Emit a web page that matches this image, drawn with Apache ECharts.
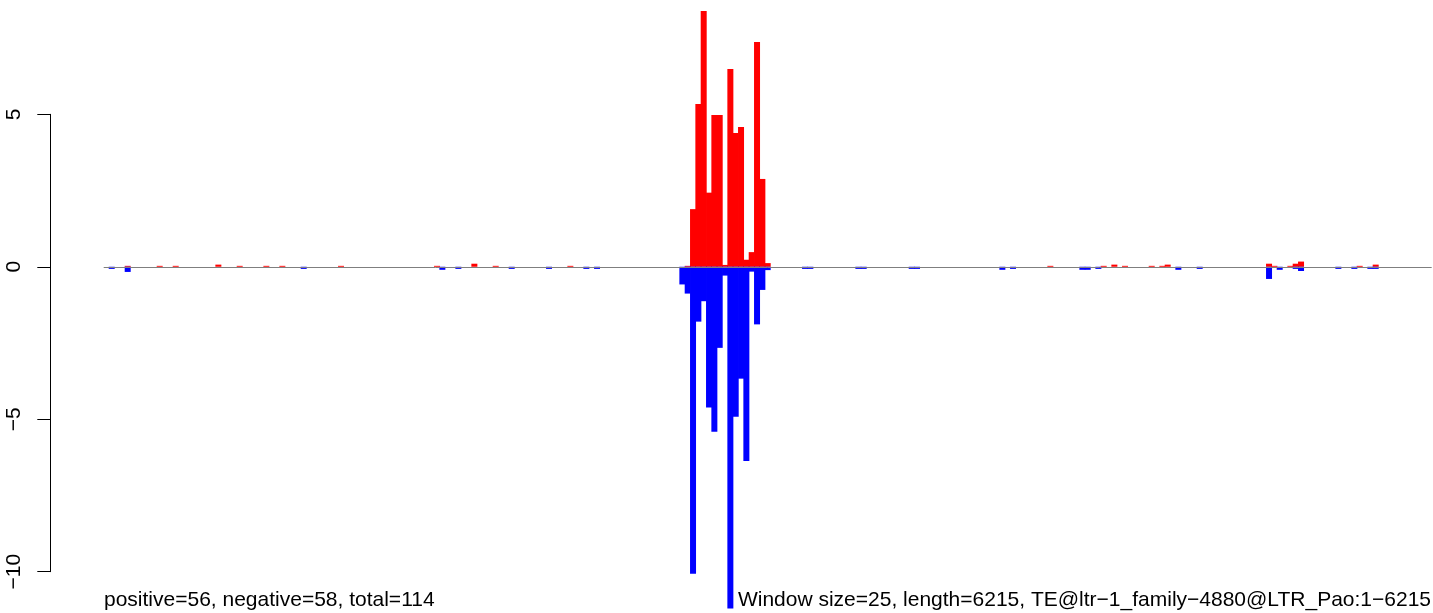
<!DOCTYPE html>
<html>
<head>
<meta charset="utf-8">
<script src="https://cdn.jsdelivr.net/npm/echarts@6/dist/echarts.min.js"></script>
<style>
html,body{margin:0;padding:0;background:#fff;}
#chart{width:1433px;height:613px;}
</style>
</head>
<body>
<div id="chart"></div>
<script>
// Window size 25 over length 6215 -> 249 windows
const windowSize = 25;
const seqLength = 6215;

// Positive (red) signal per window, 249 values
const positive = [
  0,0,0,0,0.03,0,0,0,0,0, 0.03,0,0,0.03,0,0,0,0,0,0,
  0,0.07,0,0,0,0.03,0,0,0,0, 0.03,0,0,0.03,0,0,0,0,0,0,
  0,0,0,0,0.03,0,0,0,0,0, 0,0,0,0,0,0,0,0,0,0,
  0,0,0.03,0,0,0,0,0,0,0.1, 0,0,0,0.03,0,0,0,0,0,0,
  0,0,0,0,0,0,0,0.03,0,0, 0,0,0,0,0,0,0,0,0,0,
  0,0,0,0,0,0,0,0,0,0.03, 1.89,5.34,8.39,2.43,4.98,4.98,0.06,6.49,4.39,4.58,
  0.23,0.48,7.37,2.88,0.12,0,0,0,0,0, 0,0,0,0,0,0,0,0,0,0,
  0,0,0,0,0,0,0,0,0,0, 0,0,0,0,0,0,0,0,0,0,
  0,0,0,0,0,0,0,0,0,0, 0,0,0,0,0,0,0,0.03,0,0,
  0,0,0,0,0,0,0,0.03,0,0.07, 0,0.03,0,0,0,0,0.03,0,0.03,0.07,
  0,0,0,0,0,0,0,0,0,0, 0,0,0,0,0,0,0,0,0.1,0.03,
  0,0,0.03,0.1,0.17,0,0,0,0,0, 0,0,0,0,0,0.03,0,0,0.07,0,
  0,0,0,0,0,0,0,0,0
];

// Negative (blue) signal per window, 249 values
const negative = [
  0,-0.07,0,0,-0.17,0,0,0,0,0, 0,0,0,0,0,0,0,0,0,0,
  0,0,0,0,0,0,0,0,0,0, 0,0,0,0,0,0,0,-0.07,0,0,
  0,0,0,0,0,0,0,0,0,0, 0,0,0,0,0,0,0,0,0,0,
  0,0,0,-0.1,0,0,-0.07,0,0,0, 0,0,0,0,0,0,-0.07,0,0,0,
  0,0,0,-0.07,0,0,0,0,0,0, -0.07,0,-0.07,0,0,0,0,0,0,0,
  0,0,0,0,0,0,0,0,-0.58,-0.88, -10.07,-1.8,-1.13,-4.62,-5.41,-2.66,-0.29,-11.21,-4.92,-3.67,
  -6.37,-0.16,-1.89,-0.76,-0.11,0,0,0,0,0, 0,-0.07,-0.07,0,0,0,0,0,0,0,
  0,-0.07,-0.07,0,0,0,0,0,0,0, 0,-0.07,-0.07,0,0,0,0,0,0,0,
  0,0,0,0,0,0,0,0,-0.1,0, -0.07,0,0,0,0,0,0,0,0,0,
  0,0,0,-0.1,-0.1,0,-0.07,0,0,0, 0,0,0,0,0,0,0,0,0,0,
  0,-0.1,0,0,0,-0.07,0,0,0,0, 0,0,0,0,0,0,0,0,-0.4,0,
  -0.1,0,0,-0.07,-0.14,0,0,0,0,0, 0,-0.07,0,0,-0.07,0,0,-0.07,-0.07,0,
  0,0,0,0,0,0,0,0,0
];

// Y axis tick labels
const yTicks = [-10, -5, 0, 5];

const leftNote = 'positive=56, negative=58, total=114';
const rightNote = 'Window size=25, length=6215, TE@ltr\u22121_family\u22124880@LTR_Pao:1\u22126215';

const categories = positive.map((_, i) => String(i * windowSize + 1));

const FONT = '"Liberation Sans", Arial, Helvetica, sans-serif';
const FS = 21;

const chart = echarts.init(document.getElementById('chart'), null, {renderer: 'canvas'});
chart.setOption({
  animation: false,
  backgroundColor: '#ffffff',
  grid: [
    {left: 103.7, right: 1.3, top: 0, bottom: 0, containLabel: false},
    {left: 50, width: 1, top: 114.3, bottom: 41.3, containLabel: false}
  ],
  xAxis: [
    {type: 'category', data: categories, gridIndex: 0, show: false, boundaryGap: true},
    {type: 'value', gridIndex: 1, show: false}
  ],
  yAxis: [
    {type: 'value', gridIndex: 0, min: -11.356, max: 8.749, show: false},
    {
      type: 'value', gridIndex: 1, min: -10, max: 5, interval: 5, position: 'left',
      axisLine: {show: true, lineStyle: {color: '#000', width: 1}},
      axisTick: {show: true, length: 12.7, inside: false, lineStyle: {color: '#000', width: 1}},
      axisLabel: {
        show: true, rotate: 90, margin: 25, color: '#000', fontSize: FS, fontFamily: FONT,
        formatter: v => yTicks.indexOf(v) >= 0 ? String(v).replace('-', '\u2212') : ''
      },
      splitLine: {show: false}
    }
  ],
  series: [
    {
      type: 'bar', xAxisIndex: 0, yAxisIndex: 0,
      data: positive.map(v => v === 0 ? '-' : v),
      barWidth: 6, barGap: '-100%',
      itemStyle: {color: '#ff0000'},
      markLine: {
        silent: true, symbol: ['none', 'none'], label: {show: false},
        lineStyle: {color: '#7f7f7f', width: 1, type: 'solid'},
        data: [{yAxis: 0}],
        z: 10
      },
      z: 2
    },
    {
      type: 'bar', xAxisIndex: 0, yAxisIndex: 0,
      data: negative.map(v => v === 0 ? '-' : v),
      barWidth: 6, barGap: '-100%',
      itemStyle: {color: '#0000ff'},
      z: 2
    }
  ],
  graphic: [
    {
      type: 'text', z: 100,
      style: {x: 104, y: 611, text: leftNote, textAlign: 'left', textVerticalAlign: 'bottom',
        font: FS + 'px ' + FONT, fill: '#000'}
    },
    {
      type: 'text', z: 100,
      style: {x: 1431, y: 611, text: rightNote, textAlign: 'right', textVerticalAlign: 'bottom',
        font: FS + 'px ' + FONT, fill: '#000'}
    }
  ]
});
</script>
</body>
</html>
